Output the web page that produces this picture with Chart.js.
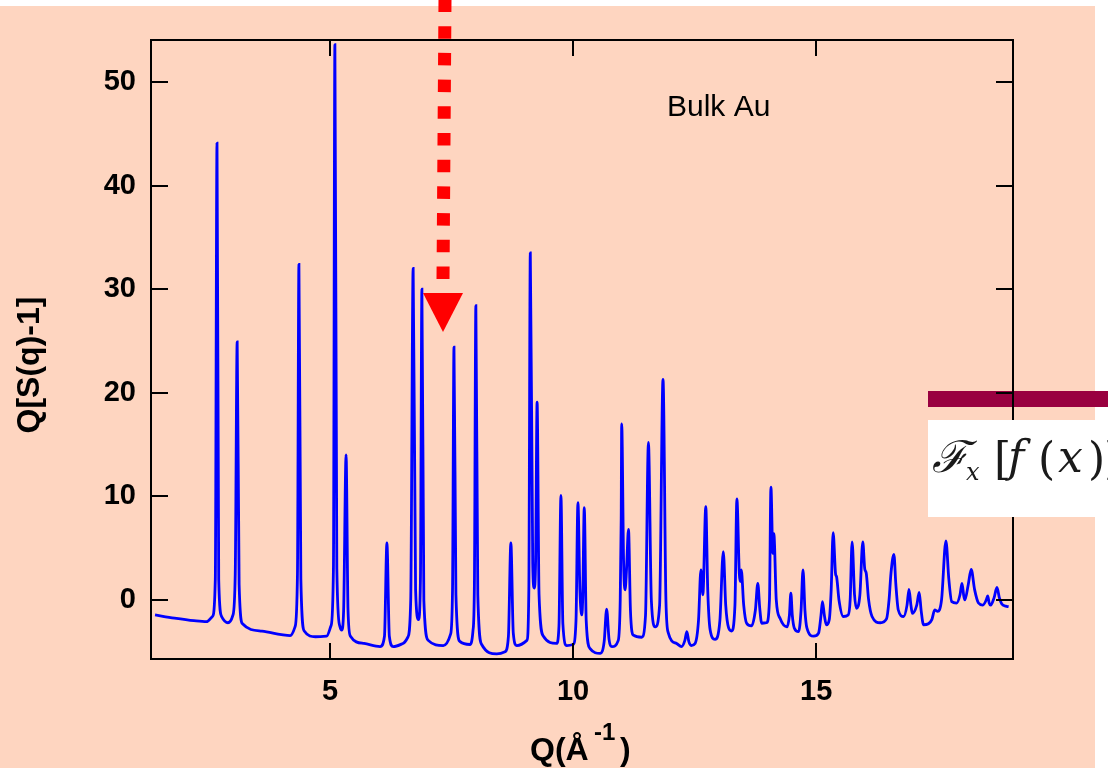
<!DOCTYPE html>
<html>
<head>
<meta charset="utf-8">
<script src="https://cdn.jsdelivr.net/npm/chart.js@4.4.1/dist/chart.umd.min.js"></script>
<style>
  html, body { margin: 0; padding: 0; background: #ffffff; }
  canvas { display: block; }
</style>
</head>
<body>
<canvas id="chart" width="1108" height="768"></canvas>
<script>
// Q values (1/Angstrom) and Q[S(q)-1]
const qValues = [
  1.40, 1.80, 2.20, 2.46, 2.58, 2.64, 2.675, 2.71, 2.77, 2.90,
  3.00, 3.05, 3.09, 3.13, 3.20, 3.60, 4.00, 4.18, 4.28, 4.33,
  4.36, 4.40, 4.47, 4.70, 4.93, 5.02, 5.07, 5.10, 5.14, 5.20,
  5.24, 5.28, 5.33, 5.37, 5.42, 5.70, 6.03, 6.12, 6.17, 6.22,
  6.30, 6.50, 6.60, 6.66, 6.71, 6.76, 6.82, 6.86, 6.89, 6.93,
  7.02, 7.33, 7.48, 7.52, 7.55, 7.59, 7.67, 7.88, 7.94, 7.97,
  8.00, 8.04, 8.12, 8.43, 8.60, 8.67, 8.72, 8.77, 8.84, 9.05,
  9.09, 9.12, 9.17, 9.20, 9.23, 9.26, 9.30, 9.39, 9.66, 9.71,
  9.75, 9.79, 9.87, 10.00, 10.06, 10.10, 10.14, 10.18, 10.20, 10.23,
  10.27, 10.35, 10.56, 10.64, 10.69, 10.74, 10.80, 10.93, 10.97, 10.99,
  11.00, 11.04, 11.07, 11.10, 11.14, 11.18, 11.24, 11.41, 11.49, 11.55,
  11.61, 11.69, 11.78, 11.85, 11.91, 11.96, 12.13, 12.23, 12.30, 12.34,
  12.38, 12.43, 12.51, 12.58, 12.63, 12.67, 12.73, 12.77, 12.82, 12.92,
  13.02, 13.09, 13.14, 13.20, 13.26, 13.33, 13.37, 13.42, 13.44, 13.46,
  13.51, 13.57, 13.67, 13.75, 13.80, 13.84, 13.88, 13.98, 14.04, 14.07,
  14.11, 14.13, 14.18, 14.26, 14.40, 14.45, 14.48, 14.51, 14.55, 14.64,
  14.69, 14.73, 14.77, 14.81, 14.95, 15.05, 15.10, 15.13, 15.17, 15.21,
  15.27, 15.31, 15.35, 15.40, 15.42, 15.47, 15.56, 15.66, 15.70, 15.74,
  15.79, 15.83, 15.90, 15.96, 16.00, 16.03, 16.08, 16.15, 16.32, 16.45,
  16.50, 16.54, 16.60, 16.64, 16.69, 16.80, 16.87, 16.91, 16.95, 16.98,
  17.07, 17.12, 17.16, 17.21, 17.31, 17.38, 17.44, 17.50, 17.58, 17.67,
  17.73, 17.79, 17.89, 17.96, 18.00, 18.04, 18.06, 18.13, 18.19, 18.26,
  18.34, 18.43, 18.50, 18.53, 18.56, 18.59, 18.66, 18.72, 18.77, 18.82,
  18.90, 18.96
];
const sqValues = [
  -1.45, -1.75, -2.0, -2.1, -1.6, 2.0, 44.1, 2.0, -1.6, -2.2,
  -1.5, 2.5, 24.9, 1.5, -2.3, -3.0, -3.35, -3.45, -2.6, 2.5,
  32.4, 2.0, -3.0, -3.55, -3.5, -2.5, 3.0, 53.6, 3.0, -2.5,
  -2.9, -1.0, 14.0, -1.0, -3.5, -4.2, -4.5, -3.5, 5.5, -3.5,
  -4.5, -4.2, -3.6, 0.0, 32.0, 1.0, -1.9, 2.0, 30.0, 0.0,
  -3.9, -4.4, -3.3, 1.0, 24.4, 0.5, -4.0, -4.3, -3.0, 1.5,
  28.4, 0.5, -4.3, -5.2, -5.0, -3.5, 5.5, -3.2, -4.4, -3.9,
  1.0, 33.5, 3.5, 1.15, 4.0, 19.1, 0.5, -3.5, -4.2, -2.5,
  10.1, -2.3, -4.4, -4.3, -2.0, 9.4, 1.0, -1.45, 0.5, 8.9,
  -2.0, -4.7, -5.15, -4.0, -0.9, -3.8, -4.5, -3.9, 0.0, 7.9,
  17.0, 3.5, 0.97, 3.0, 6.8, -1.0, -3.4, -3.6, -1.5, 15.2,
  0.0, -2.6, -0.5, 21.3, 0.0, -3.2, -4.2, -4.5, -3.9, -3.06,
  -4.0, -4.4, -4.2, -2.0, 2.9, 0.5, 9.0, 1.0, -2.9, -3.8,
  -2.0, 4.66, -0.5, -2.7, -3.0, -0.5, 9.75, 2.5, 1.77, 2.9,
  -0.5, -2.25, -2.5, -1.0, 1.6, -0.8, -2.25, -2.2, 0.0, 10.9,
  4.5, 6.4, 0.0, -1.8, -2.6, -1.5, 0.65, -1.5, -2.7, -3.06,
  -1.0, 2.9, -1.0, -2.7, -3.5, -3.2, -1.5, -0.16, -1.5, -2.4,
  -1.9, 1.0, 6.5, 2.5, 2.25, 0.0, -1.6, -1.45, 0.0, 5.6,
  0.5, -0.8, 0.5, 5.6, 3.0, 2.6, 0.0, -1.6, -2.2, -1.8,
  0.0, 2.6, 4.4, 1.5, -0.97, -1.6, -0.5, 1.03, -0.5, -1.3,
  -0.5, 0.74, -1.0, -2.4, -2.3, -1.9, -0.97, -1.1, 0.0, 5.7,
  2.0, -0.16, -0.3, 0.5, 1.6, 0.3, 0.0, 1.5, 2.96, 1.0,
  -0.3, -0.5, 0.0, 0.4, -0.3, -0.5, 0.2, 1.2, 0.2, -0.4,
  -0.6, -0.65
];
const xTickValues = [5, 10, 15];
const yTickValues = [0, 10, 20, 30, 40, 50];

const PEACH = 'rgb(254, 213, 192)';
const SANS = '"Liberation Sans", Arial, sans-serif';
const SERIF = '"DejaVu Serif", "Liberation Serif", serif';

const slidePlugin = {
    id: 'slide',
    beforeDraw(chart) {
        const c = chart.ctx;
        c.save();
        c.fillStyle = '#ffffff';
        c.fillRect(0, 0, chart.width, chart.height);
        c.fillStyle = PEACH;
        c.fillRect(0, 6, 1095, chart.height - 6);
        c.restore();
    },
    afterDraw(chart) {
        const c = chart.ctx;
        const area = chart.chartArea;
        const xs = chart.scales.x;
        const ys = chart.scales.y;
        c.save();

        // maroon bar sits under the frame
        c.fillStyle = '#990040';
        c.fillRect(928, 391, 180, 16);

        // frame + inward ticks
        c.strokeStyle = '#000000';
        c.lineWidth = 2;
        c.strokeRect(area.left, area.top, area.right - area.left, area.bottom - area.top);
        c.beginPath();
        yTickValues.forEach(v => {
            const y = Math.round(ys.getPixelForValue(v));
            c.moveTo(area.left, y); c.lineTo(area.left + 17, y);
            c.moveTo(area.right, y); c.lineTo(area.right - 17, y);
        });
        xTickValues.forEach(v => {
            const x = Math.round(xs.getPixelForValue(v));
            c.moveTo(x, area.bottom); c.lineTo(x, area.bottom - 16);
            c.moveTo(x, area.top); c.lineTo(x, area.top + 16);
        });
        c.stroke();

        // axis titles
        c.fillStyle = '#000000';
        c.textBaseline = 'alphabetic';
        c.textAlign = 'left';
        c.font = 'bold 32px ' + SANS;
        c.fillText('Q(Å', 530, 760);
        c.font = 'bold 24px ' + SANS;
        c.fillText('-1', 594, 740);
        c.font = 'bold 32px ' + SANS;
        c.fillText(')', 620, 760);

        c.save();
        c.translate(39, 365);
        c.rotate(-Math.PI / 2);
        c.textAlign = 'center';
        c.fillText('Q[S(q)-1]', 0, 0);
        c.restore();

        c.font = '30px ' + SANS;
        c.fillText('Bulk Au', 667, 116);

        // white formula box (cut off at the right edge)
        c.fillStyle = '#ffffff';
        c.fillRect(928, 420, 180, 97);
        c.fillStyle = '#1a1a1a';
        c.font = 'italic 44px ' + SERIF;
        c.fillText('\u2131', 932, 472);
        c.font = 'italic 24px ' + SERIF;
        c.fillText('x', 966, 480);
        c.font = '44px ' + SERIF;
        c.fillText('[', 994, 474);
        c.font = 'italic 44px ' + SERIF;
        c.fillText('f', 1008, 472);
        c.font = '44px ' + SERIF;
        c.fillText('(', 1038, 474);
        c.font = 'italic 44px ' + SERIF;
        c.fillText('x', 1058, 472);
        c.font = '44px ' + SERIF;
        c.fillText(')', 1088, 474);
        c.fillText(']', 1104, 474);

        // red dotted arrow
        c.strokeStyle = '#ff0000';
        c.lineWidth = 13;
        c.setLineDash([12.5, 14.2]);
        c.beginPath();
        c.moveTo(445, -0.5);
        c.lineTo(443, 280);
        c.stroke();
        c.setLineDash([]);
        c.fillStyle = '#ff0000';
        c.beginPath();
        c.moveTo(423, 293);
        c.lineTo(463, 293);
        c.lineTo(443, 332);
        c.closePath();
        c.fill();

        c.restore();
    }
};

const ctx = document.getElementById('chart').getContext('2d');
const myChart = new Chart(ctx, {
    type: 'line',
    data: {
        datasets: [{
            data: qValues.map((q, i) => ({ x: q, y: sqValues[i] })),
            borderColor: '#0000ff',
            borderWidth: 2.8,
            pointRadius: 0,
            fill: false,
            cubicInterpolationMode: 'monotone'
        }]
    },
    options: {
        responsive: false,
        animation: false,
        devicePixelRatio: 1,
        layout: {
            padding: { left: 0, top: 40, right: 95, bottom: 0 }
        },
        scales: {
            x: {
                type: 'linear',
                min: 1.317,
                max: 19.05,
                afterBuildTicks: (scale) => { scale.ticks = xTickValues.map(v => ({ value: v })); },
                afterFit: (scale) => { scale.height = 109; },
                grid: { display: false, drawTicks: false },
                border: { display: false },
                ticks: {
                    padding: 16,
                    color: '#000000',
                    maxRotation: 0,
                    font: { family: SANS, size: 29, weight: 'bold' }
                }
            },
            y: {
                min: -5.7,
                max: 54.05,
                afterBuildTicks: (scale) => { scale.ticks = yTickValues.map(v => ({ value: v })); },
                afterFit: (scale) => { scale.width = 151; },
                grid: { display: false, drawTicks: false },
                border: { display: false },
                ticks: {
                    padding: 15,
                    color: '#000000',
                    font: { family: SANS, size: 29, weight: 'bold' }
                }
            }
        },
        plugins: {
            legend: { display: false },
            tooltip: { enabled: false }
        }
    },
    plugins: [slidePlugin]
});
</script>
</body>
</html>
